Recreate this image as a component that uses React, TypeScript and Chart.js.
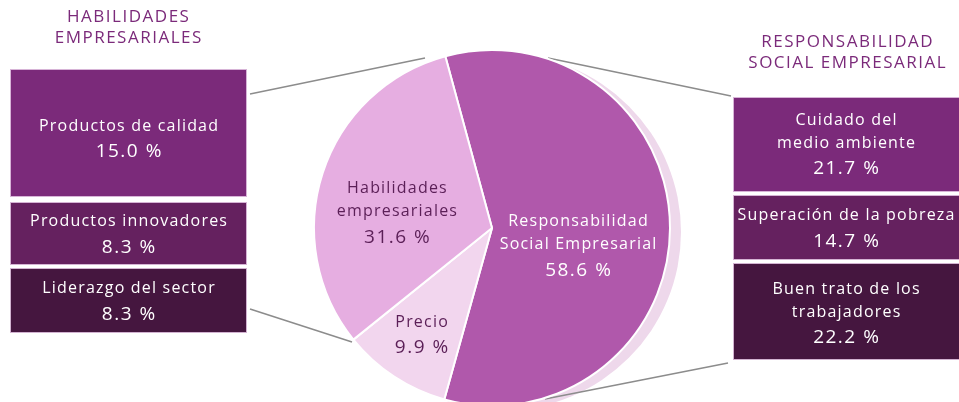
import React, { useEffect, useRef } from "react";
import { Chart, registerables } from "chart.js";

Chart.register(...registerables);

// ---- data ----
const pieLabels = ["Responsabilidad Social Empresarial", "Precio", "Habilidades empresariales"];
const pieLabelLines = [["Responsabilidad", "Social Empresarial"], ["Precio"], ["Habilidades", "empresariales"]];
const pieValues = [58.6, 9.9, 31.6];

const leftTitle = ["HABILIDADES", "EMPRESARIALES"];
const leftItems = [["Productos de calidad"], ["Productos innovadores"], ["Liderazgo del sector"]];
const leftValues = [15.0, 8.3, 8.3];

const rightTitle = ["RESPONSABILIDAD", "SOCIAL EMPRESARIAL"];
const rightItems = [["Cuidado del", "medio ambiente"], ["Superación de la pobreza"], ["Buen trato de los", "trabajadores"]];
const rightValues = [21.7, 14.7, 22.2];

// ---- styles / layout ----
const FONT = "'Open Sans', sans-serif";
const LABEL_SIZE = 16;
const VALUE_SIZE = 19;
const SPACING = 1.2;
const pieColors = ["#B058AB", "#F2D6EE", "#E6AEE1"];
const pieTextColors = ["#ffffff", "#5B1F57", "#5B1F57"];
const pieLabelFactor = [0.5, 0.72, 0.55];
const pieLabelShift = [[-3, 18], [0, 0], [-2, 15]];
const boxColors = ["#7B2A7A", "#65215F", "#45163F"];
const leftBoxes = [
  { x: 10, y: 69, w: 237, h: 128, dy: 6 },
  { x: 10, y: 202, w: 237, h: 63, dy: 1 },
  { x: 10, y: 268, w: 237, h: 65, dy: 1 },
];
const rightBoxes = [
  { x: 733, y: 97, w: 230, h: 95, dy: 0 },
  { x: 733, y: 195, w: 230, h: 65, dy: 1 },
  { x: 733, y: 263, w: 230, h: 97, dy: 2 },
];
const connectors = [
  [250, 94, 425, 58],
  [250, 309, 352, 342],
  [548, 58, 731, 96],
  [728, 363, 545, 399],
];

function spacedText(ctx: CanvasRenderingContext2D, text: string, x: number, y: number, spacing: number) {
  (ctx as any).letterSpacing = `${spacing}px`;
  ctx.fillText(text, x + spacing / 2, y);
  (ctx as any).letterSpacing = "0px";
}

function drawTextBlock(ctx: CanvasRenderingContext2D, cx: number, cy: number, lines: string[], value: string, color: string) {
  const lineH = 23;
  const valGap = 26;
  const total = (lines.length - 1) * lineH + valGap;
  let y = cy - total / 2;
  ctx.fillStyle = color;
  ctx.textAlign = "center";
  ctx.textBaseline = "middle";
  ctx.font = `${LABEL_SIZE}px ${FONT}`;
  lines.forEach((l, i) => {
    spacedText(ctx, l, cx, y + i * lineH, SPACING);
  });
  ctx.font = `${VALUE_SIZE}px ${FONT}`;
  spacedText(ctx, value, cx, y + (lines.length - 1) * lineH + valGap, 1.5);
}

const fmt = (v: number) => `${v.toFixed(1)} %`;

const decorPlugin = {
  id: "decor",
  beforeDatasetsDraw(chart: any) {
    const ctx: CanvasRenderingContext2D = chart.ctx;
    const arc = chart.getDatasetMeta(0).data[0];
    if (!arc) return;
    const { x, y, outerRadius } = arc.getProps(["x", "y", "outerRadius"], true);
    ctx.save();
    // shadow
    ctx.fillStyle = "#EED8EB";
    ctx.beginPath();
    ctx.arc(x + 11, y + 4, outerRadius, 0, Math.PI * 2);
    ctx.fill();
    // connectors
    ctx.strokeStyle = "#8C8C8C";
    ctx.lineWidth = 1.5;
    connectors.forEach(([x1, y1, x2, y2]) => {
      ctx.beginPath();
      ctx.moveTo(x1, y1);
      ctx.lineTo(x2, y2);
      ctx.stroke();
    });
    ctx.restore();
  },
  afterDatasetsDraw(chart: any) {
    const ctx: CanvasRenderingContext2D = chart.ctx;
    ctx.save();
    // pie labels
    const meta = chart.getDatasetMeta(0);
    meta.data.forEach((el: any, i: number) => {
      const { x, y, startAngle, endAngle, outerRadius } = el.getProps(["x", "y", "startAngle", "endAngle", "outerRadius"], true);
      const mid = (startAngle + endAngle) / 2;
      const r = outerRadius * pieLabelFactor[i];
      drawTextBlock(
        ctx,
        x + Math.cos(mid) * r + pieLabelShift[i][0],
        y + Math.sin(mid) * r + pieLabelShift[i][1],
        pieLabelLines[i],
        fmt(pieValues[i]),
        pieTextColors[i]
      );
    });
    // titles
    ctx.fillStyle = "#7B2A7A";
    ctx.textAlign = "center";
    ctx.textBaseline = "middle";
    ctx.font = `17px ${FONT}`;
    leftTitle.forEach((t, i) => spacedText(ctx, t, 128, 17 + i * 21, 1.5));
    rightTitle.forEach((t, i) => spacedText(ctx, t, 847, 42 + i * 21, 1.5));
    // boxes
    const drawBoxes = (boxes: any[], items: string[][], values: number[]) => {
      boxes.forEach((b, i) => {
        ctx.fillStyle = boxColors[i];
        ctx.fillRect(b.x, b.y, b.w, b.h);
        ctx.strokeStyle = "rgba(225,195,225,0.9)";
        ctx.lineWidth = 1;
        ctx.strokeRect(b.x + 0.5, b.y + 0.5, b.w - 1, b.h - 1);
        drawTextBlock(ctx, b.x + b.w / 2 + (b.x > 500 ? -2 : 0), b.y + b.h / 2 + b.dy, items[i], fmt(values[i]), "#FFFFFF");
      });
    };
    drawBoxes(leftBoxes, leftItems, leftValues);
    drawBoxes(rightBoxes, rightItems, rightValues);
    ctx.restore();
  },
};

export default function App() {
  const ref = useRef<HTMLCanvasElement | null>(null);
  useEffect(() => {
    if (!ref.current) return;
    const chart = new Chart(ref.current, {
      type: "pie",
      data: {
        labels: pieLabels,
        datasets: [
          {
            data: pieValues,
            backgroundColor: pieColors,
            borderColor: "#ffffff",
            borderWidth: 2,
            radius: 178,
          } as any,
        ],
      },
      options: {
        responsive: false,
        animation: false,
        rotation: -15.2,
        layout: { padding: { left: 314, right: 289, top: 50, bottom: 24 } },
        plugins: { legend: { display: false }, tooltip: { enabled: false } },
      },
      plugins: [decorPlugin],
    });
    return () => chart.destroy();
  }, []);
  return (
    <div style={{ position: "fixed", left: 0, top: 0, width: 959, height: 402, overflow: "hidden", background: "#fff" }}>
      <canvas ref={ref} width={959} height={430} style={{ display: "block" }} />
    </div>
  );
}
